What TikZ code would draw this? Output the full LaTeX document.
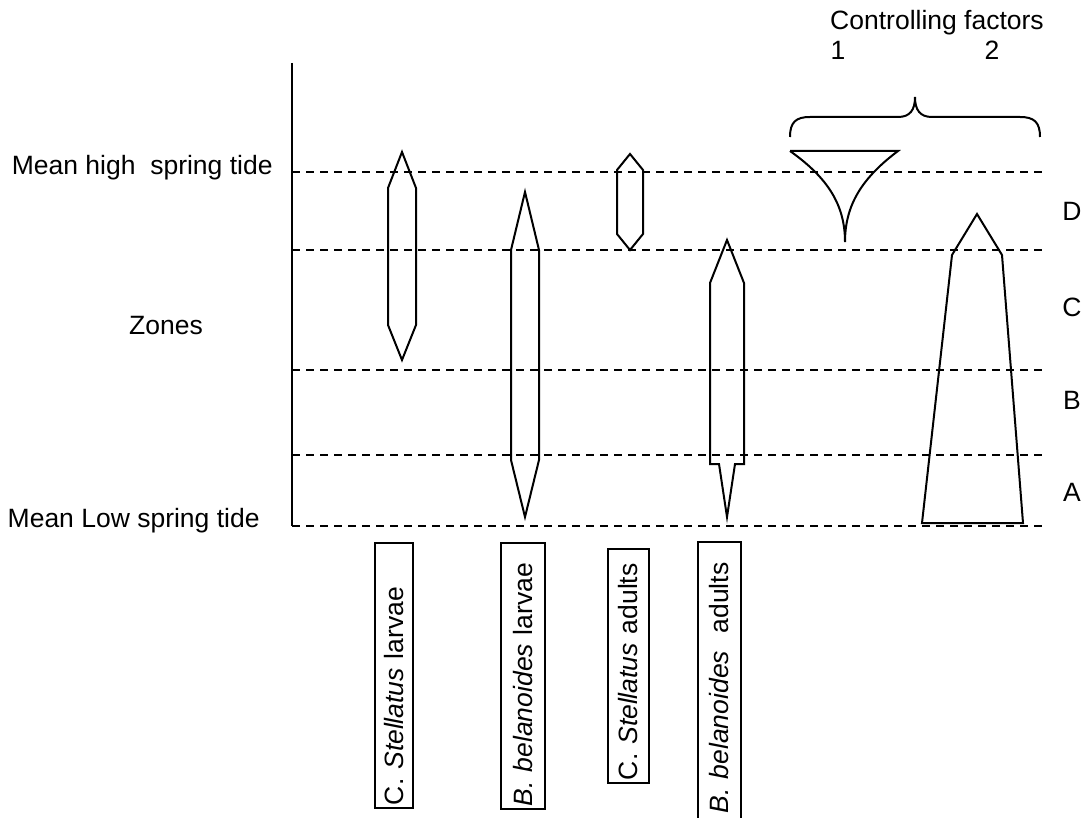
\documentclass[tikz,border=0pt]{standalone}
\usepackage{fontspec}
\setmainfont{Liberation Sans}
\usetikzlibrary{positioning,calc}
\tikzset{
  lab/.style={font=\fontsize{13.25}{16}\selectfont, inner sep=0pt},
  tide/.style={dash pattern=on 4pt off 3pt, line width=0.7pt},
  body/.style={line width=1pt, line join=miter},
  spbox/.style={lab, draw, line width=1pt, rotate=90, anchor=west, align=left, inner xsep=1.5pt},
}

\begin{document}
\begin{tikzpicture}[x=0.5pt, y=-0.5pt]
        \useasboundingbox (0,0) rectangle (1087,818);
        \clip (0,0) rectangle (1087,818);
        % tide levels and axis
        \foreach \y in {172,250,370,455,526}
          \draw[tide] (292,\y) -- (1042,\y);
        \draw[line width=1.3pt] (292,63) -- (292,526);
        \node[lab, anchor=base east] (high) at (273,175) {Mean high~ spring tide};
        \node[lab, anchor=base] (zones) at (166,335) {Zones};
        \node[lab, anchor=base east] (low) at (260,527) {Mean Low spring tide};
        % zone letters
        \node[lab] (zD) at (1072,211) {D};
        \node[lab] (zC) at (1072,307) {C};
        \node[lab] (zB) at (1072,400) {B};
        \node[lab] (zA) at (1072,492) {A};
        % ranges of the species
        \draw[body] (402,152) -- (416,188) -- (416,325) -- (402,360) -- (388,325) -- (388,188) -- cycle;
        \draw[body] (525,192) -- (539,250) -- (539,460) -- (525,517) -- (511,460) -- (511,250) -- cycle;
        \draw[body] (630,154) -- (643,170) -- (643,234) -- (630,250) -- (617,234) -- (617,170) -- cycle;
        \draw[body] (727,240) -- (744,283) -- (744,464) -- (735,464) -- (727,517) -- (719,464)
          -- (710,464) -- (710,283) -- cycle;
        % controlling factors
        \node[lab, anchor=base] (ctrl) at (937,30) {Controlling factors};
        \node[lab, anchor=base] (f1) at (838,60) {1};
        \node[lab, anchor=base] (f2) at (992,60) {2};
        \draw[line width=1pt] (790,137) .. controls (790,122) and (796,117) .. (810,117) -- (898,117)
          .. controls (910,117) and (915,110) .. (915,97) .. controls (915,110) and (920,117) .. (932,117)
          -- (1020,117) .. controls (1034,117) and (1040,122) .. (1040,137);
        \draw[body] (790,151) -- (898,151) .. controls (862,178) and (845,205) .. (845,242)
          .. controls (845,205) and (828,178) .. (790,151);
        \draw[body] (977,214) -- (1002,255) -- (1023,523) -- (922,523) -- (952,255) -- cycle;
        % species labels
        \node[spbox, minimum width=132.5pt, minimum height=19pt, text width=129.5pt] (csl) at (394,809)
          {C. \textit{Stellatus} larvae};
        \node[spbox, minimum width=133pt, minimum height=22pt, text width=130pt] (bbl) at (523,810)
          {\textit{B. belanoides} larvae};
        \node[spbox, minimum width=117pt, minimum height=20.5pt, text width=114pt] (csa) at (628.5,784)
          {C. \textit{Stellatus} adults};
        \node[spbox, inner xsep=4pt, minimum width=139.5pt, minimum height=21.5pt, text width=131.5pt] (bba) at (719.5,822)
          {\textit{B. belanoides}~ adults};
      \end{tikzpicture}
\end{document}
